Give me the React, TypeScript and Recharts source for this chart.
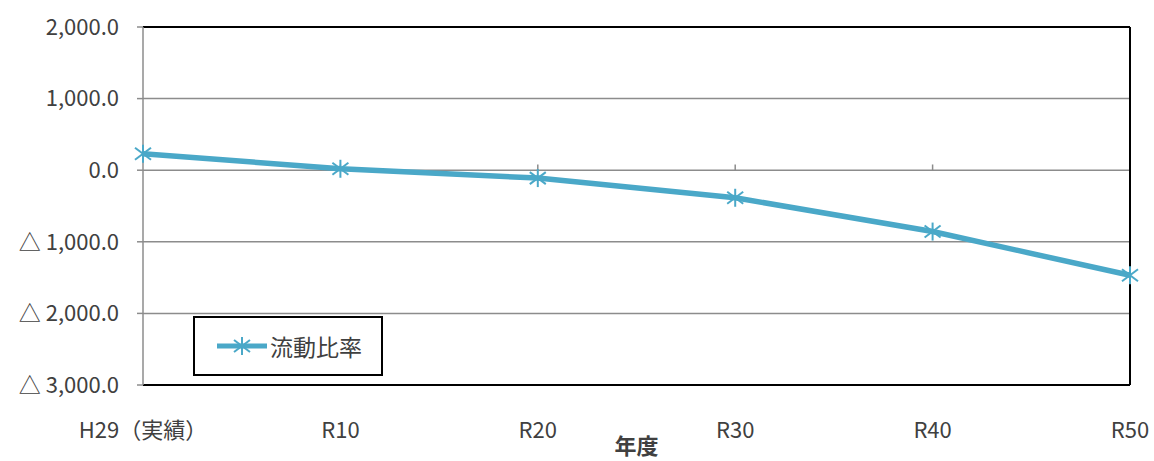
import React from 'react';
import { LineChart, Line, XAxis, YAxis, CartesianGrid, ReferenceLine } from 'recharts';

// 年度
const years = ['H29（実績）', 'R10', 'R20', 'R30', 'R40', 'R50'];
// 流動比率
const ratio = [230, 20, -110, -385, -857, -1468];
const yTicks = [-3000, -2000, -1000, 0, 1000, 2000];

const data = years.map((y, i) => ({ year: y, ratio: ratio[i] }));

const LINE_COLOR = '#4aa8c8';
const TEXT = '#404040';
const FONT = '"Noto Sans CJK JP", "Noto Sans", sans-serif';

function fmt(v: number) {
  const s = Math.abs(v).toLocaleString('en-US', { minimumFractionDigits: 1, maximumFractionDigits: 1 });
  return v < 0 ? `△ ${s}` : s;
}

// Excelのスター型マーカー
function StarDot(props: any) {
  const { cx, cy } = props;
  if (cx == null || cy == null) return null;
  return (
    <g stroke={LINE_COLOR} strokeWidth={2}>
      <line x1={cx} y1={cy - 9} x2={cx} y2={cy + 9} />
      <line x1={cx - 8} y1={cy - 6} x2={cx + 8} y2={cy + 6} />
      <line x1={cx - 8} y1={cy + 6} x2={cx + 8} y2={cy - 6} />
    </g>
  );
}

function XTick(props: any) {
  const { x, y, payload } = props;
  return (
    <text x={x} y={y + 45} textAnchor="middle" fill={TEXT} fontSize={22} fontFamily={FONT}>
      {payload.value}
    </text>
  );
}

function LegendBox() {
  return (
    <div
      style={{
        position: 'absolute',
        left: 193,
        top: 316,
        boxSizing: 'border-box',
        width: 190,
        height: 60,
        border: '2px solid #000',
        background: '#fff',
        display: 'flex',
        alignItems: 'center',
        paddingLeft: 22,
        fontFamily: FONT,
        fontSize: 23,
        color: TEXT,
      }}
    >
      <svg width={50} height={20}>
        <line x1={0} y1={10} x2={50} y2={10} stroke={LINE_COLOR} strokeWidth={5} />
        <StarDot cx={25} cy={10} />
      </svg>
      <span style={{ marginLeft: 3 }}>流動比率</span>
    </div>
  );
}

export default function App() {
  return (
    <div style={{ position: 'absolute', left: 0, top: 0, width: 1154, height: 461, background: '#fff' }}>
      <LineChart width={1154} height={461} data={data} margin={{ top: 27, right: 24, bottom: 0, left: 0 }}>
        <CartesianGrid horizontal vertical={false} stroke="#8c8c8c" strokeWidth={1.5} />
        <XAxis
          dataKey="year"
          axisLine={{ stroke: '#000', strokeWidth: 2 }}
          tickLine={false}
          tick={<XTick />}
          height={76}
          interval={0}
          label={{ value: '年度', position: 'insideBottom', offset: 7, fill: TEXT, fontSize: 22, fontWeight: 'bold', fontFamily: FONT }}
        />
        <YAxis
          domain={[-3000, 2000]}
          ticks={yTicks}
          tickFormatter={fmt}
          width={143}
          axisLine={{ stroke: '#8c8c8c', strokeWidth: 1.5 }}
          tickLine={{ stroke: '#8c8c8c', strokeWidth: 1.5 }}
          tickSize={6}
          tickMargin={18}
          tick={{ fill: TEXT, fontSize: 22, fontFamily: FONT }}
          interval={0}
        />
        <ReferenceLine y={2000} stroke="#000" strokeWidth={2} />
        <ReferenceLine x="R50" stroke="#000" strokeWidth={2} />
        {/* 0軸上の目盛り */}
        {years.slice(1, 5).map((y) => (
          <ReferenceLine key={y} segment={[{ x: y, y: 0 }, { x: y, y: 80 }]} stroke="#8c8c8c" strokeWidth={1.5} />
        ))}
        <Line
          dataKey="ratio"
          stroke={LINE_COLOR}
          strokeWidth={5.5}
          dot={<StarDot />}
          activeDot={false}
          isAnimationActive={false}
        />
      </LineChart>
      <LegendBox />
    </div>
  );
}
